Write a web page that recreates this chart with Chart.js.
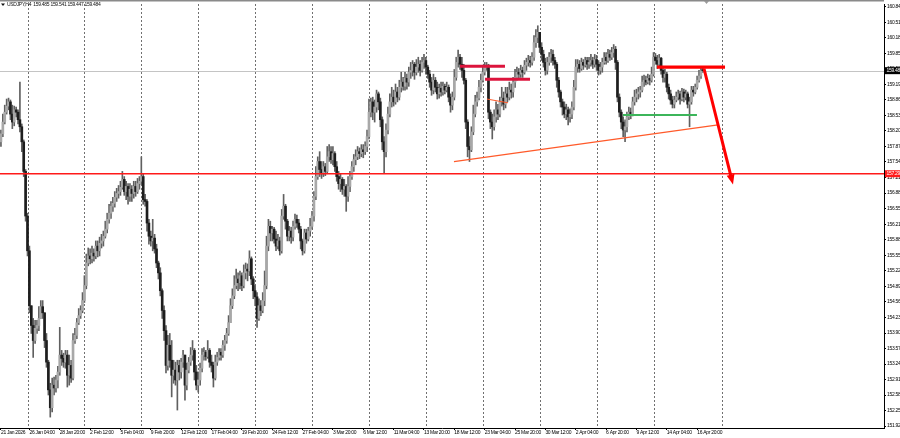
<!DOCTYPE html>
<html><head><meta charset="utf-8">
<script src="https://cdn.jsdelivr.net/npm/chart.js@4.4.1/dist/chart.umd.min.js"></script>
<style>html,body{margin:0;padding:0;background:#fff;overflow:hidden}canvas{display:block}</style>
</head><body>
<canvas id="c" width="900" height="438"></canvas>
<script>
// ---------- data (USDJPY, H4) ----------
const symbolHeader = 'USDJPY,H4  159.485 159.541 159.447 159.484';
const firstOpen = 157.97;
const closes = [
158.14,158.39,158.60,158.73,158.82,158.56,158.39,158.65,158.60,158.44,
158.29,157.97,157.34,156.39,155.65,154.48,154.06,153.74,154.00,154.06,
154.21,154.46,154.33,153.74,153.28,152.69,152.31,152.79,152.73,152.90,
153.07,153.43,153.36,153.28,153.43,153.00,153.21,152.94,153.74,153.85,
154.12,154.27,154.38,154.59,154.91,155.39,155.54,155.48,155.60,155.54,
155.75,155.65,155.81,155.86,155.96,156.11,156.32,156.45,156.60,156.66,
156.79,156.87,156.91,157.00,157.17,156.91,157.02,156.81,156.96,156.87,
157.02,156.91,157.08,157.13,157.23,156.74,156.70,156.24,155.96,155.86,
155.92,155.69,155.39,155.18,154.80,154.38,153.95,153.21,153.64,153.32,
153.00,153.11,152.90,153.21,153.07,153.28,153.43,152.79,153.11,153.28,
153.43,153.53,153.07,152.79,152.90,153.15,153.43,153.49,153.40,153.53,
153.28,153.21,152.94,153.28,153.38,153.49,153.43,153.64,153.74,153.89,
154.12,154.48,154.69,154.91,155.05,154.97,155.12,154.91,155.18,155.26,
155.22,155.48,155.05,154.80,154.67,154.21,154.48,154.38,154.59,154.91,
155.75,156.17,156.03,156.11,155.90,155.75,155.86,155.65,156.39,156.60,
156.28,155.96,156.07,155.94,156.17,156.32,156.24,156.11,155.86,155.65,
156.03,155.90,156.07,156.17,156.39,156.81,157.23,157.55,157.38,157.29,
157.44,157.34,157.65,157.76,157.59,157.72,157.44,157.23,157.08,157.17,
156.96,157.02,156.81,157.02,157.23,157.44,157.59,157.65,157.76,157.72,
157.80,157.76,157.87,158.08,158.60,158.82,158.60,158.71,158.99,158.82,
158.44,157.97,157.76,158.22,158.56,158.82,158.92,158.82,159.03,158.92,
159.13,159.24,159.15,159.32,159.24,159.45,159.49,159.62,159.45,159.56,
159.62,159.49,159.66,159.70,159.56,159.41,159.24,159.07,159.28,159.13,
158.99,159.11,159.03,159.15,159.07,159.13,158.92,158.75,158.92,159.34,
159.66,159.77,159.62,159.49,159.28,158.39,157.87,157.80,158.18,158.56,
158.82,158.90,159.13,159.28,159.45,159.56,159.60,158.60,158.39,158.29,
158.50,158.65,158.56,158.82,158.90,158.77,158.99,158.92,159.07,159.03,
159.24,159.34,159.45,159.41,159.49,159.45,159.60,159.66,159.70,159.66,
159.77,160.08,160.19,160.30,159.98,159.83,159.66,159.49,159.66,159.77,
159.83,159.70,159.62,159.28,159.03,158.82,158.71,158.56,158.65,158.50,
158.56,158.71,159.13,159.56,159.62,159.53,159.66,159.60,159.70,159.62,
159.66,159.70,159.62,159.72,159.62,159.49,159.56,159.66,159.77,159.70,
159.83,159.77,159.87,159.94,159.66,158.92,158.60,158.39,158.22,158.29,
158.50,158.60,158.56,158.82,158.92,158.99,159.03,159.07,159.24,159.28,
159.24,159.32,159.28,159.41,159.77,159.70,159.62,159.75,159.49,159.34,
159.41,159.13,158.99,158.86,158.77,158.86,158.92,158.99,158.88,159.03,
158.92,158.99,158.77,158.82,159.07,159.03,159.13,159.28,159.37,159.485,
159.484];
const highs = [
158.22,158.56,158.75,158.88,158.90,158.86,158.75,158.73,158.71,158.65,
159.24,158.35,158.01,157.38,156.45,155.75,154.48,154.21,154.17,154.17,
154.46,154.59,154.59,154.33,153.89,153.32,152.83,152.94,152.96,153.00,
153.19,154.02,153.53,153.47,153.53,153.53,153.43,153.32,153.89,154.00,
154.21,154.42,154.48,154.76,155.12,155.58,155.71,155.69,155.75,155.69,
155.86,155.86,155.94,156.00,156.07,156.28,156.45,156.64,156.70,156.79,
156.91,156.98,157.04,157.13,157.34,157.23,157.13,157.08,157.08,157.04,
157.13,157.13,157.19,157.23,157.65,157.29,156.85,156.74,156.32,156.07,
156.32,156.00,155.79,155.43,155.29,154.84,154.48,154.06,153.85,153.89,
153.74,153.32,153.28,153.32,153.32,153.36,153.53,153.43,153.26,153.38,
153.59,153.74,153.57,153.21,153.07,153.26,153.57,153.59,153.53,153.74,
153.57,153.43,153.28,153.43,153.49,153.57,153.57,153.74,153.85,154.00,
154.27,154.63,154.84,155.12,155.26,155.18,155.22,155.18,155.35,155.39,
155.37,155.65,155.52,155.10,154.91,154.76,154.63,154.59,154.76,155.22,
155.96,156.32,156.28,156.17,156.15,156.07,156.00,155.94,156.53,156.85,
156.64,156.32,156.17,156.15,156.28,156.43,156.41,156.32,156.17,155.90,
156.11,156.11,156.15,156.34,156.49,156.91,157.44,157.65,157.76,157.55,
157.55,157.51,157.87,157.91,157.87,157.87,157.76,157.55,157.34,157.29,
157.21,157.17,157.06,157.23,157.34,157.55,157.70,157.80,157.87,157.84,
157.91,157.91,157.97,158.22,158.88,158.90,158.92,158.86,159.07,159.03,
158.90,158.50,158.08,158.35,158.71,158.99,159.13,159.07,159.20,159.13,
159.28,159.45,159.34,159.45,159.41,159.56,159.66,159.70,159.66,159.72,
159.77,159.70,159.77,159.83,159.77,159.60,159.49,159.34,159.41,159.34,
159.24,159.20,159.24,159.24,159.20,159.24,159.18,158.99,159.03,159.51,
159.77,159.92,159.83,159.77,159.62,159.32,158.44,158.08,158.29,158.75,
158.96,159.03,159.28,159.41,159.60,159.66,159.66,159.62,158.65,158.56,
158.65,158.82,158.77,158.92,159.13,159.03,159.13,159.13,159.24,159.20,
159.34,159.51,159.56,159.53,159.60,159.56,159.70,159.75,159.81,159.79,
159.87,160.23,160.36,160.44,160.30,160.08,159.92,159.75,159.77,159.87,
159.94,159.92,159.77,159.66,159.34,159.07,158.88,158.82,158.77,158.71,
158.67,158.82,159.28,159.72,159.72,159.70,159.75,159.72,159.77,159.77,
159.77,159.83,159.77,159.83,159.81,159.70,159.66,159.75,159.87,159.87,
159.94,159.92,159.98,160.04,160.00,159.70,158.99,158.65,158.50,158.44,
158.60,158.71,158.69,158.92,159.07,159.09,159.13,159.15,159.37,159.39,
159.37,159.41,159.39,159.56,159.87,159.85,159.81,159.83,159.77,159.53,
159.51,159.45,159.20,159.07,158.94,158.94,159.03,159.07,159.05,159.11,
159.09,159.07,159.03,158.92,159.15,159.15,159.20,159.37,159.49,159.56,
159.541];
const lows = [
157.87,158.08,158.35,158.56,158.65,158.44,158.25,158.31,158.50,158.35,
158.18,157.76,157.23,156.28,155.54,154.33,153.89,153.38,153.68,153.89,
153.95,154.27,154.21,153.59,153.17,152.58,152.11,152.22,152.58,152.64,
152.73,153.00,153.21,153.17,153.15,152.75,152.79,152.85,152.90,153.68,
153.78,154.08,154.21,154.33,154.55,154.84,155.33,155.37,155.39,155.43,
155.48,155.52,155.54,155.71,155.75,155.92,156.03,156.24,156.34,156.49,
156.58,156.70,156.77,156.83,156.96,156.83,156.74,156.64,156.70,156.70,
156.77,156.81,156.87,156.96,157.06,156.64,156.60,156.07,155.79,155.75,
155.65,155.60,155.29,155.05,154.69,154.21,153.74,153.05,153.11,153.17,
152.54,152.83,152.79,152.26,152.90,152.94,153.17,152.47,152.69,153.05,
153.21,153.32,152.90,152.69,152.64,152.79,153.07,153.32,153.32,153.36,
153.17,153.07,152.75,152.90,153.21,153.32,153.32,153.38,153.53,153.68,
153.85,154.12,154.42,154.63,154.84,154.80,154.84,154.80,154.86,155.05,
155.01,155.12,154.93,154.63,154.48,154.02,154.17,154.27,154.33,154.48,
154.84,155.65,155.86,155.86,155.81,155.65,155.69,155.56,155.60,156.32,
156.11,155.86,155.86,155.81,155.86,156.11,156.15,156.03,155.69,155.56,
155.60,155.81,155.86,155.96,156.11,156.28,156.74,157.17,157.23,157.19,
157.23,157.25,157.29,157.55,157.51,157.48,157.34,157.13,156.96,156.91,
156.85,156.81,156.49,156.70,156.91,157.17,157.34,157.48,157.59,157.61,
157.65,157.63,157.70,157.76,158.03,158.50,158.44,158.39,158.60,158.65,
158.29,157.80,157.29,157.65,158.14,158.50,158.71,158.73,158.77,158.82,
158.86,159.03,159.07,159.07,159.09,159.15,159.32,159.37,159.30,159.39,
159.45,159.37,159.45,159.53,159.41,159.32,159.13,158.96,158.99,159.03,
158.88,158.90,158.94,158.96,158.99,159.03,158.82,158.60,158.65,158.86,
159.28,159.56,159.51,159.34,159.20,158.25,157.65,157.55,157.76,158.12,
158.50,158.73,158.86,159.03,159.24,159.39,159.49,158.46,158.25,158.03,
158.22,158.39,158.44,158.50,158.73,158.65,158.69,158.82,158.86,158.90,
158.92,159.13,159.28,159.30,159.34,159.34,159.41,159.49,159.58,159.56,
159.60,159.70,159.98,160.08,159.87,159.70,159.56,159.39,159.41,159.60,
159.66,159.60,159.53,159.13,158.92,158.71,158.54,158.48,158.44,158.33,
158.39,158.46,158.65,159.07,159.45,159.45,159.49,159.51,159.56,159.51,
159.53,159.58,159.53,159.56,159.49,159.39,159.41,159.45,159.62,159.62,
159.66,159.70,159.72,159.77,159.51,158.82,158.50,158.25,158.08,157.97,
158.18,158.44,158.46,158.52,158.75,158.82,158.88,158.92,159.03,159.15,
159.18,159.20,159.18,159.24,159.37,159.62,159.53,159.58,159.41,159.24,
159.24,159.03,158.88,158.77,158.69,158.69,158.82,158.86,158.77,158.84,
158.82,158.86,158.69,158.29,158.77,158.94,158.99,159.09,159.24,159.32,
159.447];
const priceTickLabels = ['160.84','160.51','160.18','159.85','159.52','159.19','158.86','158.53','158.20',
  '157.87','157.54','157.21','156.88','156.55','156.21','155.88','155.55','155.22','154.89','154.56',
  '154.23','153.90','153.57','153.24','152.91','152.58','152.25','151.92'];
const timeTickLabels = ['21 Jan 2026','26 Jan 04:00','28 Jan 20:00','2 Feb 12:00','5 Feb 04:00','9 Feb 20:00',
  '12 Feb 12:00','17 Feb 04:00','19 Feb 20:00','24 Feb 12:00','27 Feb 04:00','3 Mar 20:00','6 Mar 12:00',
  '11 Mar 04:00','13 Mar 20:00','18 Mar 12:00','23 Mar 04:00','25 Mar 20:00','30 Mar 12:00','2 Apr 04:00',
  '6 Apr 20:00','9 Apr 12:00','14 Apr 04:00','16 Apr 20:00'];
const weekStartBars = [14,44,74,104,134,164,194,224,254,284,314,344,380];
const bidPrice = 159.484, bidLabel = '159.484';
const levelPrice = 157.29, levelLabel = '157.290';
// drawn objects: [barFrom, priceFrom, barTo, priceTo]
const crimsonLines = [[242.0,159.58,265.7,159.58],[255.2,159.30,278.9,159.30]];
const smallOrangeLine = [256.2,158.88,267.3,158.80];
const trendLine = [238.8,157.55,378.0,158.33];
const greenLine = [327.9,158.54,366.9,158.54];
const redResistance = [345.8,159.56,381.7,159.56];
const arrowLine = [370.6,159.53,385.9,157.06];

// ---------- chart ----------
const totalSlots = 466;
const FONT = '"Liberation Sans",Arial,sans-serif';
const opens = closes.map((c, i) => i === 0 ? firstOpen : closes[i - 1]);
const slotLabels = Array.from({length: totalSlots}, (_, i) => String(i));
const tickSlots = timeTickLabels.map((_, k) => k === 0 ? 0 : 15 + 16 * (k - 1));
const tickText = {}; tickSlots.forEach((s, k) => tickText[s] = timeTickLabels[k]);
const priceTickValues = priceTickLabels.map(Number);

const wickData = closes.map((c, i) => [Math.min(lows[i], opens[i], c), Math.max(highs[i], opens[i], c)]);
const bodyData = closes.map((c, i) => [opens[i], c]);
const bodyColors = closes.map((c, i) => c >= opens[i] ? '#a8a8a8' : '#1e1e1e');

function seg(ctx, x, y, d) {
  ctx.beginPath();
  ctx.moveTo(x.getPixelForValue(d[0]), y.getPixelForValue(d[1]));
  ctx.lineTo(x.getPixelForValue(d[2]), y.getPixelForValue(d[3]));
  ctx.stroke();
}

const overlay = {
  id: 'overlay',
  beforeDraw(chart) {
    chart.ctx.letterSpacing = '-0.3px';
  },
  beforeDatasetsDraw(chart) {
    const {ctx, chartArea: a, scales: {x, y}} = chart;
    ctx.save();
    ctx.strokeStyle = '#707070'; ctx.lineWidth = 1; ctx.setLineDash([2, 2]);
    weekStartBars.forEach(s => {
      const px = Math.round(x.getPixelForValue(s)) + 0.5;
      ctx.beginPath(); ctx.moveTo(px, a.top); ctx.lineTo(px, a.bottom); ctx.stroke();
    });
    ctx.setLineDash([]);
    ctx.strokeStyle = '#c4c4c4';
    const by = Math.round(y.getPixelForValue(bidPrice)) + 0.5;
    ctx.beginPath(); ctx.moveTo(a.left, by); ctx.lineTo(a.right, by); ctx.stroke();
    ctx.restore();
  },
  afterDatasetsDraw(chart) {
    const {ctx, chartArea: a, scales: {x, y}} = chart;
    ctx.save();
    ctx.beginPath(); ctx.rect(a.left, a.top, a.right - a.left, a.bottom - a.top); ctx.clip();
    ctx.strokeStyle = '#ff1a1a'; ctx.lineWidth = 1.6;
    const ly = y.getPixelForValue(levelPrice);
    ctx.beginPath(); ctx.moveTo(a.left, ly); ctx.lineTo(a.right, ly); ctx.stroke();
    ctx.strokeStyle = '#ff5a2a'; ctx.lineWidth = 1.3; seg(ctx, x, y, trendLine);
    ctx.lineWidth = 1; seg(ctx, x, y, smallOrangeLine);
    ctx.strokeStyle = '#dc143c'; ctx.lineWidth = 3;
    crimsonLines.forEach(d => seg(ctx, x, y, d));
    ctx.strokeStyle = '#3cb55a'; ctx.lineWidth = 2; seg(ctx, x, y, greenLine);
    ctx.strokeStyle = '#ff0000'; ctx.lineWidth = 3.2; seg(ctx, x, y, redResistance);
    const x0 = x.getPixelForValue(arrowLine[0]), y0 = y.getPixelForValue(arrowLine[1]);
    const x1 = x.getPixelForValue(arrowLine[2]), y1 = y.getPixelForValue(arrowLine[3]);
    const len = Math.hypot(x1 - x0, y1 - y0), ux = (x1 - x0) / len, uy = (y1 - y0) / len;
    const hl = 10, hw = 4;
    ctx.lineWidth = 3; ctx.strokeStyle = '#ff0000'; ctx.fillStyle = '#ff0000';
    ctx.beginPath(); ctx.moveTo(x0, y0); ctx.lineTo(x1 - ux * hl * 0.6, y1 - uy * hl * 0.6); ctx.stroke();
    ctx.beginPath();
    ctx.moveTo(x1, y1);
    ctx.lineTo(x1 - ux * hl - uy * hw, y1 - uy * hl + ux * hw);
    ctx.lineTo(x1 - ux * hl + uy * hw, y1 - uy * hl - ux * hw);
    ctx.closePath(); ctx.fill();
    ctx.restore();
  },
  afterDraw(chart) {
    const {ctx, chartArea: a, scales: {y}} = chart;
    ctx.save();
    ctx.strokeStyle = '#8a8a8a'; ctx.lineWidth = 1.5;
    ctx.beginPath(); ctx.moveTo(0, 0.75); ctx.lineTo(a.right, 0.75); ctx.stroke();
    ctx.fillStyle = '#9a9a9a';
    ctx.beginPath(); ctx.moveTo(704, 1); ctx.lineTo(709, 1); ctx.lineTo(706.5, 4); ctx.closePath(); ctx.fill();
    ctx.font = '5px ' + FONT; ctx.textBaseline = 'middle'; ctx.textAlign = 'left';
    const box = (price, bg, txt) => {
      const py = y.getPixelForValue(price);
      ctx.fillStyle = bg; ctx.fillRect(a.right + 1, py - 3.5, 16, 7);
      ctx.fillStyle = '#ffffff'; ctx.fillText(txt, a.right + 2.5, py + 0.3);
    };
    box(bidPrice, '#000000', bidLabel);
    box(levelPrice, '#ff1a1a', levelLabel);
    ctx.fillStyle = '#111';
    ctx.beginPath(); ctx.moveTo(1, 3.5); ctx.lineTo(5, 3.5); ctx.lineTo(3, 6); ctx.closePath(); ctx.fill();
    ctx.fillStyle = '#111';
    ctx.fillText(symbolHeader, 7, 5);
    ctx.restore();
  }
};

new Chart(document.getElementById('c'), {
  type: 'bar',
  data: {
    labels: slotLabels,
    datasets: [
      {label: 'body', data: bodyData, backgroundColor: bodyColors, barThickness: 2, minBarLength: 1, grouped: false, order: 1, borderWidth: 0},
      {label: 'wick', data: wickData, backgroundColor: '#606060', barThickness: 1, grouped: false, order: 2, borderWidth: 0}
    ]
  },
  options: {
    responsive: false, animation: false, devicePixelRatio: 1,
    layout: {padding: {top: 1, left: 0, right: 0, bottom: 0}},
    plugins: {legend: {display: false}, tooltip: {enabled: false}},
    scales: {
      x: {
        type: 'category', offset: true,
        grid: {display: true, drawOnChartArea: false, drawTicks: true, tickLength: 2, color: '#000', offset: false},
        border: {display: true, color: '#000', width: 1},
        ticks: {autoSkip: false, maxRotation: 0, minRotation: 0, align: 'start', padding: 0,
          color: '#000', font: {family: FONT, size: 5}, callback: v => tickText[v] || ''},
        afterBuildTicks: s => { s.ticks = tickSlots.map(v => ({value: v})); },
        afterFit: s => { s.height = 10; }
      },
      y: {
        type: 'linear', position: 'right', min: 151.878, max: 160.903,
        grid: {drawOnChartArea: false, drawTicks: true, tickLength: 2, color: '#000'},
        border: {display: true, color: '#000', width: 1},
        ticks: {padding: 1, color: '#000', font: {family: FONT, size: 5}, callback: (v, i) => priceTickLabels[i]},
        afterBuildTicks: s => { s.ticks = priceTickValues.map(v => ({value: v})); },
        afterFit: s => { s.width = 16; }
      }
    }
  },
  plugins: [overlay]
});
</script>
</body></html>
